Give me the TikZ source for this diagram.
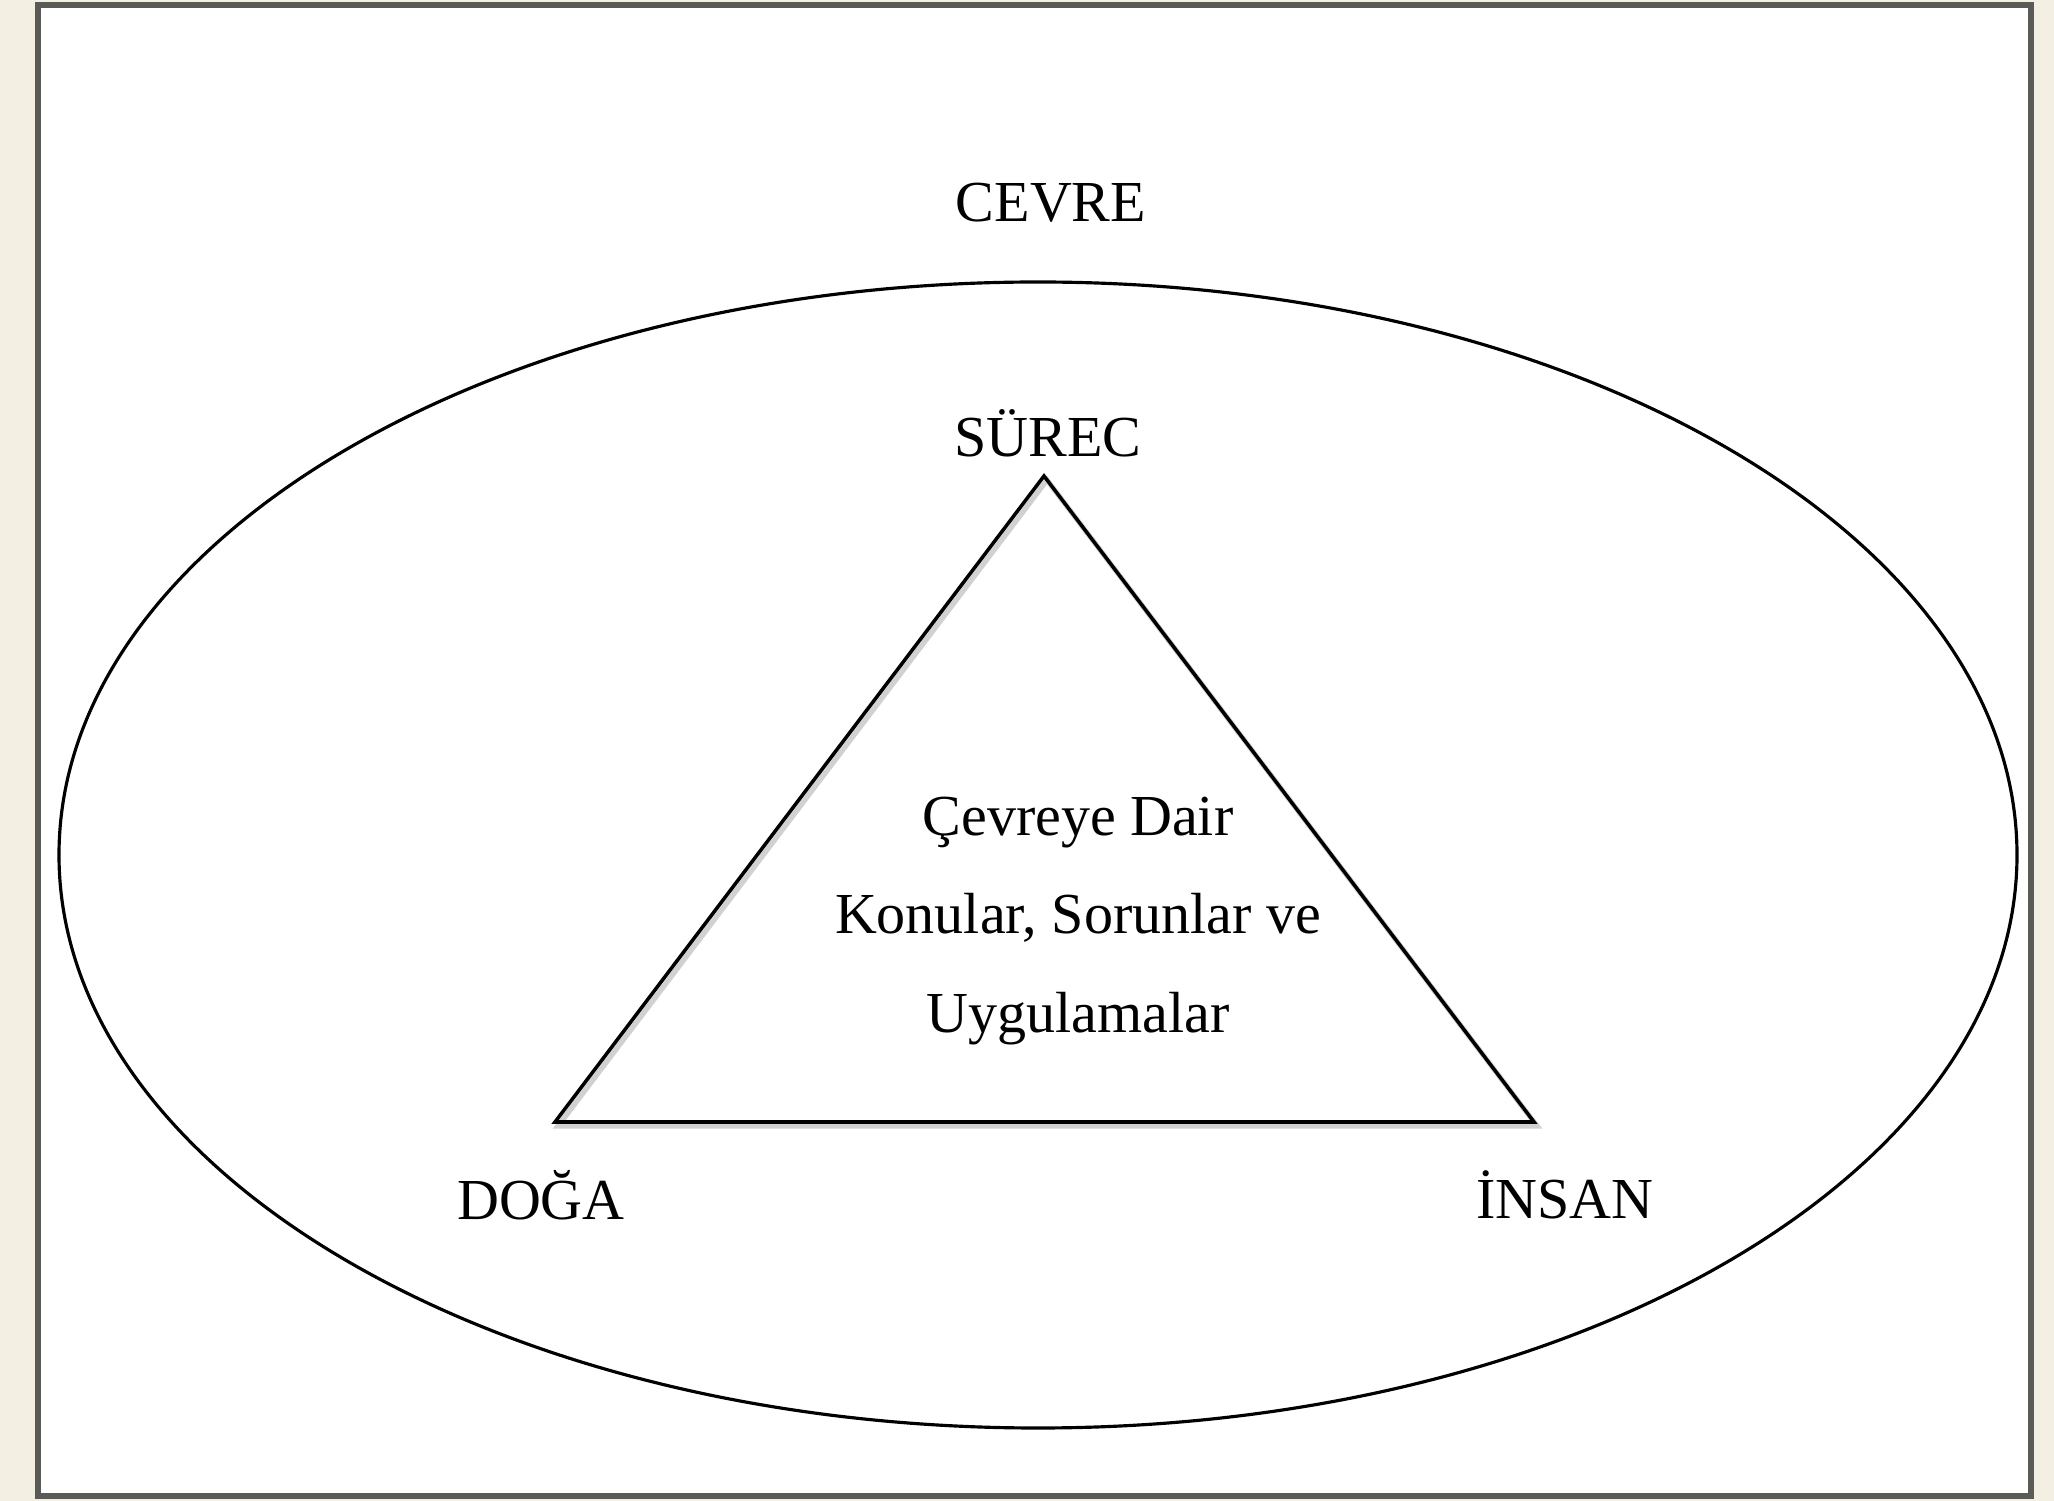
\documentclass[tikz,border=0pt]{standalone}
\usepackage{fontspec}
\setmainfont{Liberation Serif}
\usepackage{tikz}
\usetikzlibrary{positioning}

\definecolor{paper}{HTML}{F4EFE3}
\definecolor{frame}{HTML}{5A5A56}
\tikzset{
  lbl/.style={font=\fontsize{16.5}{20}\selectfont, inner sep=0pt},
  mid/.style={font=\fontsize{16.5}{27.9}\selectfont, align=center, inner sep=0pt},
  edge/.style={line width=1pt, line join=miter},
  shade/.style={line width=1.5pt, black!18}
}

\begin{document}
\begin{tikzpicture}[x=0.01cm, y=-0.01cm]
    % page and frame
    \fill[paper] (0,0) rectangle (2054,1501);
    \filldraw[fill=white, draw=frame, line width=1.8pt] (38,5) rectangle (2031,1496);
    \useasboundingbox (0,0) rectangle (2054,1501);

    \draw[line width=0.9pt] (1038,855) ellipse [x radius=979, y radius=573];

    \coordinate (apex) at (1044,476);
    \coordinate (lft) at (555,1122);
    \coordinate (rgt) at (1534,1122);
    \draw[shade] ([shift={(3,4)}]apex) -- ([shift={(3,4)}]rgt) -- ([shift={(3,4)}]lft) -- cycle;
    \draw[edge] (apex) -- (rgt) -- (lft) -- cycle;

    \node(cevre) [lbl] at (1051,203) {CEVRE};
    \node(surec) [lbl] at (1048,433) {SÜREC};
    \node(doga) [lbl] at (541,1195) {DOĞA};
    \node(insan) [lbl] at (1565,1195) {İNSAN};
    \node(konu) [mid] at (1078,921) {Çevreye Dair\\Konular, Sorunlar ve\\Uygulamalar};
  \end{tikzpicture}
\end{document}
